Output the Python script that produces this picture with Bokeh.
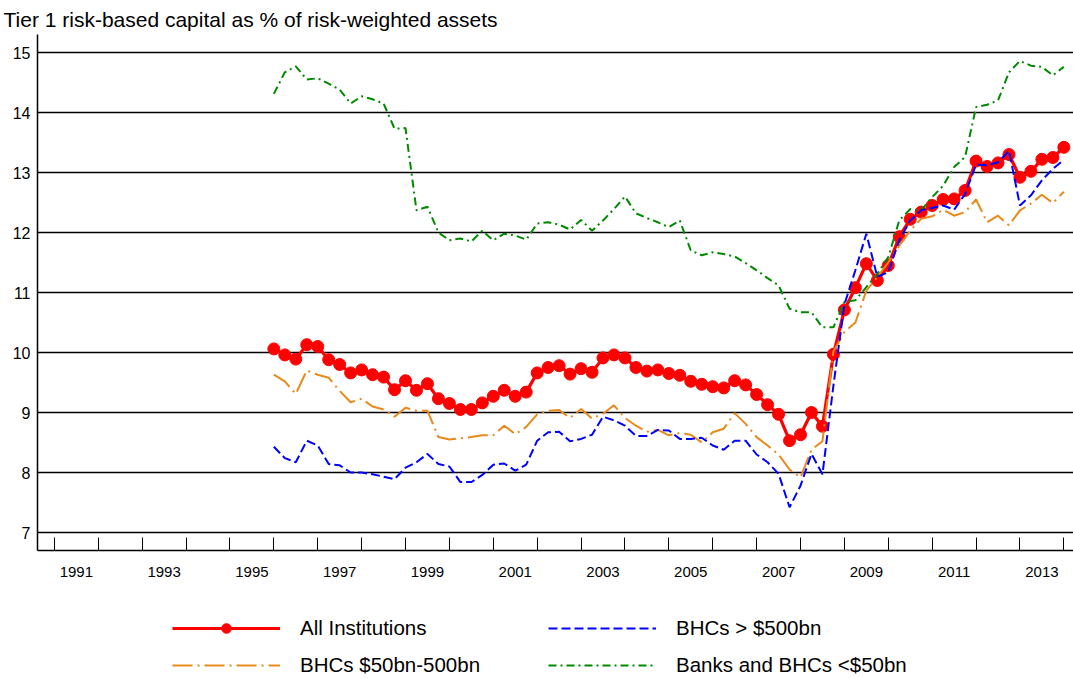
from bokeh.plotting import figure
from bokeh.layouts import column
from bokeh.models import Range1d, FixedTicker, CustomJSTickFormatter, Legend, LegendItem, ColumnDataSource
from bokeh.embed import file_html
from bokeh.resources import INLINE

# ---- data (quarterly, starting 1996) ----
start_year = 1996
all_inst = [10.06, 9.96, 9.89, 10.13, 10.10, 9.88, 9.80, 9.66, 9.71, 9.63,
            9.59, 9.38, 9.53, 9.37, 9.48, 9.23, 9.15, 9.05, 9.05, 9.16,
            9.27, 9.37, 9.27, 9.34, 9.66, 9.75, 9.78, 9.64, 9.73, 9.67,
            9.91, 9.96, 9.91, 9.75, 9.69, 9.71, 9.65, 9.62, 9.52, 9.47,
            9.43, 9.41, 9.53, 9.46, 9.30, 9.13, 8.97, 8.53, 8.63, 9.00,
            8.77, 9.97, 10.71, 11.08, 11.48, 11.20, 11.45, 11.93, 12.22, 12.34,
            12.45, 12.55, 12.56, 12.70, 13.19, 13.10, 13.16, 13.30, 12.92, 13.02,
            13.22, 13.25, 13.42]
bhc_large = [8.43, 8.24, 8.17, 8.53, 8.45, 8.14, 8.12, 8.00, 8.00, 7.97,
             7.93, 7.89, 8.08, 8.17, 8.31, 8.14, 8.10, 7.84, 7.84, 7.96,
             8.13, 8.15, 8.03, 8.13, 8.53, 8.67, 8.68, 8.52, 8.56, 8.63,
             8.93, 8.87, 8.78, 8.61, 8.61, 8.71, 8.70, 8.56, 8.56, 8.58,
             8.45, 8.38, 8.53, 8.53, 8.30, 8.17, 7.98, 7.42, 7.78, 8.31,
             7.97, 9.45, 10.80, 11.37, 11.98, 11.26, 11.34, 11.87, 12.20, 12.37,
             12.41, 12.45, 12.38, 12.64, 13.13, 13.12, 13.17, 13.36, 12.45, 12.62,
             12.87, 13.06, 13.21]
bhc_mid = [9.63, 9.52, 9.31, 9.70, 9.63, 9.58, 9.36, 9.17, 9.23, 9.10,
           9.05, 8.93, 9.08, 9.03, 9.03, 8.59, 8.55, 8.57, 8.59, 8.62,
           8.62, 8.78, 8.64, 8.76, 8.97, 9.03, 9.04, 8.91, 9.06, 8.90,
           8.98, 9.12, 8.91, 8.78, 8.68, 8.71, 8.62, 8.66, 8.63, 8.50,
           8.67, 8.73, 8.99, 8.81, 8.59, 8.45, 8.30, 8.05, 7.92, 8.38,
           8.52, 10.02, 10.34, 10.50, 11.03, 11.26, 11.50, 11.78, 12.03, 12.23,
           12.27, 12.38, 12.28, 12.34, 12.55, 12.17, 12.28, 12.12, 12.37, 12.48,
           12.63, 12.49, 12.68]
banks_small = [14.31, 14.67, 14.77, 14.55, 14.57, 14.48, 14.38, 14.15, 14.27, 14.22,
               14.15, 13.73, 13.74, 12.37, 12.43, 12.00, 11.87, 11.90, 11.85, 12.03,
               11.87, 11.98, 11.95, 11.88, 12.15, 12.17, 12.13, 12.05, 12.21, 12.03,
               12.20, 12.39, 12.60, 12.32, 12.24, 12.17, 12.09, 12.20, 11.70, 11.62,
               11.67, 11.64, 11.60, 11.49, 11.37, 11.24, 11.12, 10.73, 10.67, 10.67,
               10.42, 10.42, 10.84, 10.87, 11.09, 11.31, 11.59, 12.20, 12.39, 12.37,
               12.59, 12.78, 13.09, 13.26, 14.09, 14.13, 14.20, 14.67, 14.86, 14.78,
               14.76, 14.62, 14.76]
series_names = ["All Institutions", "BHCs > $500bn", "BHCs $50bn-500bn", "Banks and BHCs <$50bn"]
label_years = list(range(1991, 2014, 2))
year_bounds = list(range(1991, 2015))
y_ticks = list(range(7, 16))
title_text = "Tier 1 risk-based capital as % of risk-weighted assets"

quarter_x = [start_year + 0.25 * i for i in range(len(all_inst))]
src = ColumnDataSource(dict(x=quarter_x, a=all_inst, b=bhc_large, m=bhc_mid, s=banks_small))

FONT = "Liberation Sans"
RED, BLUE, ORANGE, GREEN = "#FF0000", "#0000FF", "#E8891A", "#008A00"
styles = {
    "a": dict(line_color=RED, line_width=3.2),
    "m": dict(line_color=ORANGE, line_width=2, line_dash="20 5 2 5"),
    "s": dict(line_color=GREEN, line_width=2, line_dash="8 4 2 4"),
    "b": dict(line_color=BLUE, line_width=2, line_dash="9 4"),
}
dot_style = dict(marker="circle", size=12, fill_color=RED, line_color=RED)

p = figure(width=1073, height=590, output_backend="svg", toolbar_location=None,
           x_range=Range1d(1990.615, 2014.22), y_range=Range1d(6.7, 15.3),
           min_border_left=37, min_border_right=0, min_border_top=34, min_border_bottom=40)
p.outline_line_color = None
p.background_fill_color = "white"

p.title.text = title_text
p.title.text_font = FONT
p.title.text_font_size = "21px"
p.title.text_font_style = "normal"
p.title.text_color = "black"
p.title.align = "left"
p.title.offset = -34
p.title.standoff = 7

# axes
xa = p.xaxis[0]
xa.ticker = FixedTicker(ticks=[y + 0.5 for y in label_years], minor_ticks=year_bounds)
xa.formatter = CustomJSTickFormatter(code="return String(Math.floor(tick));")
xa.major_tick_in = 0
xa.major_tick_out = 0
xa.minor_tick_in = 13
xa.minor_tick_out = 0
xa.minor_tick_line_color = "black"
xa.minor_tick_line_width = 1
xa.axis_line_color = "black"
xa.axis_line_width = 1.5
xa.major_label_standoff = 16
xa.major_label_text_font = FONT
xa.major_label_text_font_size = "15px"
xa.major_label_text_color = "black"

ya = p.yaxis[0]
ya.ticker = FixedTicker(ticks=y_ticks)
ya.major_tick_in = 0
ya.major_tick_out = 0
ya.minor_tick_line_color = None
ya.axis_line_color = "black"
ya.axis_line_width = 1.5
ya.major_label_standoff = 7
ya.major_label_text_font = FONT
ya.major_label_text_font_size = "16px"
ya.major_label_text_color = "black"

p.xgrid.visible = False
p.ygrid.ticker = FixedTicker(ticks=y_ticks)
p.ygrid.grid_line_color = "black"
p.ygrid.grid_line_width = 1.6
p.ygrid.grid_line_alpha = 1.0

# series
p.line("x", "a", source=src, **styles["a"])
p.scatter("x", "a", source=src, **dot_style)
p.line("x", "m", source=src, **styles["m"])
p.line("x", "s", source=src, **styles["s"])
p.line("x", "b", source=src, **styles["b"])

# legend strip below the chart: same series styles, their data lie outside this strip's ranges
lf = figure(width=1073, height=88, output_backend="svg", toolbar_location=None,
            x_range=Range1d(0, 1), y_range=Range1d(0, 1),
            x_axis_location=None, y_axis_location=None,
            min_border_left=0, min_border_right=0, min_border_top=0, min_border_bottom=0)
lf.outline_line_color = None
lf.xgrid.visible = False
lf.ygrid.visible = False
la = lf.line("x", "a", source=src, **styles["a"])
ld = lf.scatter("x", "a", source=src, **dot_style)
lb = lf.line("x", "b", source=src, **styles["b"])
lm = lf.line("x", "m", source=src, **styles["m"])
ls = lf.line("x", "s", source=src, **styles["s"])

legend = Legend(items=[LegendItem(label=series_names[0], renderers=[la, ld]),
                       LegendItem(label=series_names[1], renderers=[lb]),
                       LegendItem(label=series_names[2], renderers=[lm]),
                       LegendItem(label=series_names[3], renderers=[ls])],
                orientation="horizontal", ncols=2, location=(135, 1), margin=0,
                padding=0, spacing=13, glyph_width=108, glyph_height=24,
                label_height=24, label_width=235, label_standoff=20,
                label_text_font=FONT, label_text_font_size="20.5px",
                label_text_color="black",
                border_line_color=None, background_fill_alpha=0)
lf.add_layout(legend)

layout = column(p, lf, spacing=0)
open("out.html", "w").write(file_html(layout, INLINE))
